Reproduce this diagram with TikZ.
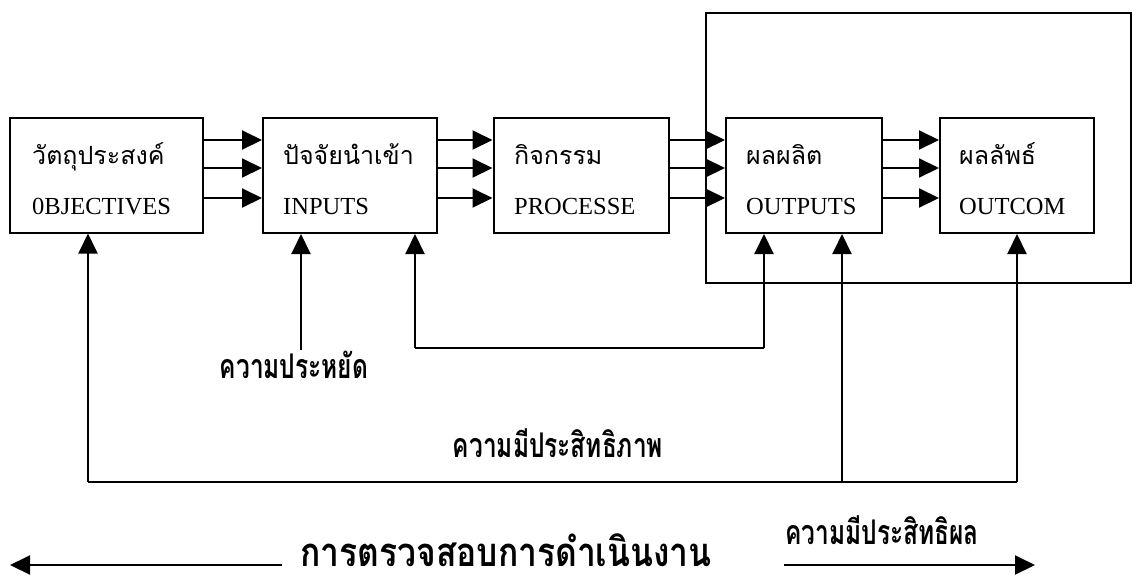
\documentclass[tikz,border=0pt]{standalone}
\usepackage{fontspec}
\setmainfont{Liberation Serif}
\newfontfamily\thai[Script=Thai]{Loma}
\usetikzlibrary{arrows.meta}
\tikzset{
  box/.style={draw, line width=2pt, inner sep=0pt},
  arr/.style={line width=2pt, -{Triangle[length=20pt,width=19pt]}},
  ln/.style={line width=2pt},
  thl/.style={anchor=base west, inner sep=0pt, font=\thai\fontsize{25}{30}\selectfont},
  enl/.style={anchor=base west, inner sep=0pt, font=\fontsize{24.5}{28}\selectfont},
  lab/.style={inner sep=0pt, font=\thai\bfseries\fontsize{34}{40}\selectfont, xscale=0.72, transform shape},
}
\begin{document}
\begin{tikzpicture}[x=1pt,y=-1pt]
\useasboundingbox (0,0) rectangle (1133,582);
% boxes
\node[box, minimum width=193pt, minimum height=115pt] (b1) at (106.5,175) {};
\node[box, minimum width=174pt, minimum height=115pt] (b2) at (350,175.5) {};
\node[box, minimum width=175pt, minimum height=115pt] (b3) at (581,175.5) {};
\node[box, minimum width=156pt, minimum height=115pt] (b4) at (804,175.5) {};
\node[box, minimum width=154pt, minimum height=115pt] (b5) at (1017,175.5) {};
% texts
\node[thl] (t1) at (32,164) {วัตถุประสงค์};
\node[enl] (e1) at (32,214) {0BJECTIVES};
\node[thl] (t2) at (283,164) {ปัจจัยนำเข้า};
\node[enl] (e2) at (283,214) {INPUTS};
\node[thl] (t3) at (514,164) {กิจกรรม};
\node[enl] (e3) at (514,214) {PROCESSE};
\node[thl] (t4) at (746,164) {ผลผลิต};
\node[enl] (e4) at (746,214) {OUTPUTS};
\node[thl] (t5) at (959,164) {ผลลัพธ์};
\node[enl] (e5) at (959,214) {OUTCOM};
% outer frame
\draw[ln] (706,13) rectangle (1131,283);
% horizontal arrows
\foreach \y in {140,168,198}{
  \draw[arr] (b1.east |- 0,\y) -- (b2.west |- 0,\y);
  \draw[arr] (b2.east |- 0,\y) -- (b3.west |- 0,\y);
  \draw[arr] (b3.east |- 0,\y) -- (b4.west |- 0,\y);
  \draw[arr] (b4.east |- 0,\y) -- (b5.west |- 0,\y);
}
% economy
\node[lab] (eco) at (294,365) {ความประหยัด};
\coordinate (ec) at (301,350);
\draw[arr] (ec) -- (ec |- b2.south);
% loop
\coordinate (l1) at (415,348);
\coordinate (l2) at (764,348);
\draw[ln] (l1) -- (l2);
\draw[arr] (l1) -- (l1 |- b2.south);
\draw[arr] (l2) -- (l2 |- b4.south);
% bottom line
\coordinate (c1) at (88,482);
\coordinate (c5) at (842,482);
\coordinate (c6) at (1017,482);
\draw[ln] (c1) -- (c6);
\draw[arr] (c1) -- (c1 |- b1.south);
\draw[arr] (c5) -- (c5 |- b4.south);
\draw[arr] (c6) -- (c6 |- b5.south);
\node[lab] (eff) at (558,443) {ความมีประสิทธิภาพ};
\node[lab] (efv) at (882,530) {ความมีประสิทธิผล};
% title
\node[anchor=base, inner sep=0pt, font=\thai\bfseries\fontsize{40}{46}\selectfont, xscale=0.84, transform shape] (title) at (506,566) {การตรวจสอบการดำเนินงาน};
\coordinate (la) at (282,565);
\coordinate (lb) at (10,565);
\coordinate (ra) at (784,565);
\coordinate (rb) at (1035,565);
\draw[arr] (la) -- (lb);
\draw[arr] (ra) -- (rb);
\end{tikzpicture}
\end{document}
